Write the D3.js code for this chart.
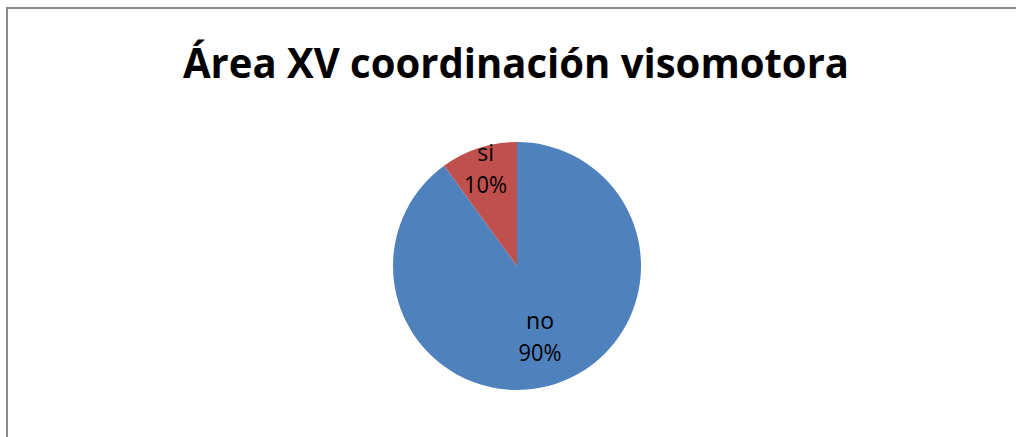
<!DOCTYPE html>
<html>
<head>
<meta charset="utf-8">
<script src="https://cdn.jsdelivr.net/npm/d3@7"></script>
<style>
  html, body { margin: 0; background: #fff; overflow: hidden; }
  svg { display: block; }
</style>
</head>
<body>
<div id="chart"></div>
<script>
const title = "Área XV coordinación visomotora";
const categories = ["no", "si"];
const values = [90, 10];
const colors = ["#4F81BD", "#C0504D"];

const width = 1016;
const height = 437;

const svg = d3.select("#chart")
  .append("svg")
    .attr("width", width)
    .attr("height", height);

// chart area border: only the top and left edges are in view
svg.append("path")
  .attr("d", `M7,${height}V8H${width}`)
  .attr("fill", "none")
  .attr("stroke", "#8c8c8c")
  .attr("stroke-width", 2);

svg.append("text")
  .attr("x", 516)
  .attr("y", 78)
  .attr("text-anchor", "middle")
  .attr("font-family", "Open Sans, sans-serif")
  .attr("font-weight", "bold")
  .attr("font-size", 41)
  .attr("textLength", 666)
  .attr("lengthAdjust", "spacingAndGlyphs")
  .text(title);

const cx = 517, cy = 266, r = 124;

const pie = d3.pie().sort(null).value(d => d.value);
const arcs = pie(categories.map((c, i) => ({ name: c, value: values[i], color: colors[i] })));
const total = d3.sum(values);

const arc = d3.arc().innerRadius(0).outerRadius(r);

const g = svg.append("g")
  .attr("transform", `translate(${cx},${cy})`);

g.selectAll("path")
  .data(arcs)
  .join("path")
    .attr("d", arc)
    .attr("fill", d => d.data.color);

// small slices get their label pushed further out
const labelArc = d => {
  const k = (d.endAngle - d.startAngle) < 1 ? 0.82 : 0.6;
  return d3.arc().innerRadius(r * k).outerRadius(r * k).centroid(d);
};

const label = g.selectAll("g.lbl")
  .data(arcs)
  .join("g")
    .attr("class", "lbl")
    .attr("transform", d => `translate(${labelArc(d)})`)
    .attr("font-family", "Open Sans, sans-serif")
    .attr("font-size", 23)
    .attr("text-anchor", "middle")
    .attr("fill", "#000");

label.append("text")
  .attr("y", -8)
  .text(d => d.data.name);

label.append("text")
  .attr("y", 24)
  .attr("textLength", 43)
  .attr("lengthAdjust", "spacingAndGlyphs")
  .text(d => Math.round(d.data.value / total * 100) + "%");
</script>
</body>
</html>
